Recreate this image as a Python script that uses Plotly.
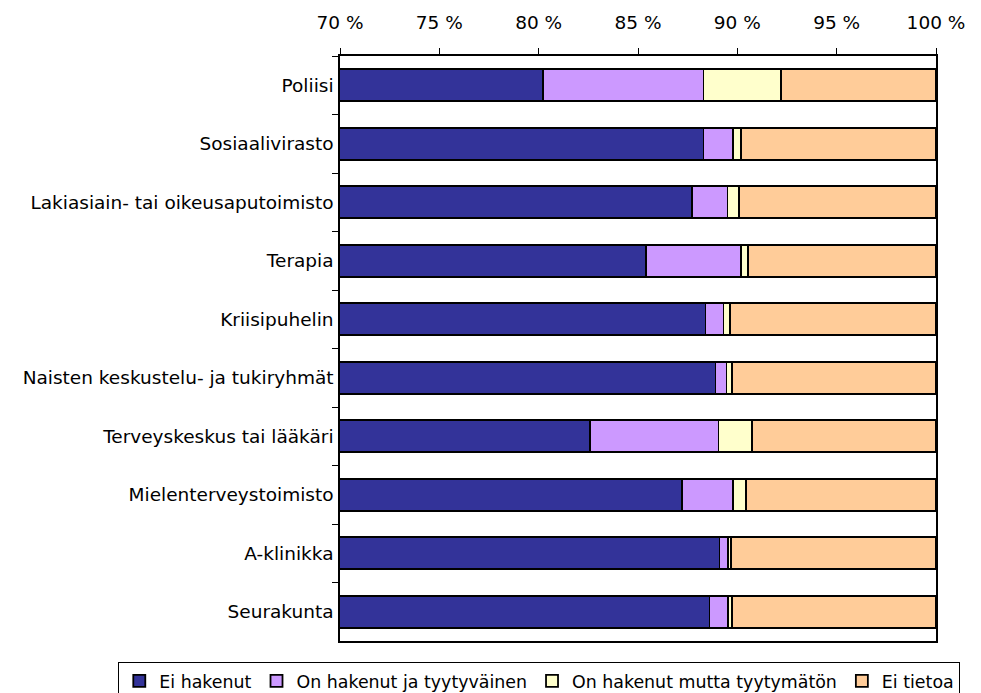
import plotly.graph_objects as go

categories = ["Poliisi", "Sosiaalivirasto", "Lakiasiain- tai oikeusaputoimisto", "Terapia",
              "Kriisipuhelin", "Naisten keskustelu- ja tukiryhmät", "Terveyskeskus tai lääkäri",
              "Mielenterveystoimisto", "A-klinikka", "Seurakunta"]
ei_hakenut = [80.2, 88.3, 87.7, 85.4, 88.4, 88.9, 82.6, 87.2, 89.1, 88.6]
tyytyvainen = [8.1, 1.5, 1.8, 4.8, 0.9, 0.55, 6.45, 2.6, 0.45, 0.95]
tyytymaton = [3.9, 0.4, 0.6, 0.35, 0.35, 0.27, 1.7, 0.65, 0.15, 0.2]
ei_tietoa = [7.8, 9.8, 9.9, 9.45, 10.35, 10.28, 9.25, 9.55, 10.3, 10.25]

series = [
    ("Ei hakenut", ei_hakenut, "#333399"),
    ("On hakenut ja tyytyväinen", tyytyvainen, "#CC99FF"),
    ("On hakenut mutta tyytymätön", tyytymaton, "#FFFFCC"),
    ("Ei tietoa", ei_tietoa, "#FFCC99"),
]
tick_vals = [70, 75, 80, 85, 90, 95, 100]
tick_text = [f"{v} %" for v in tick_vals]

fig = go.Figure()
for name, vals, color in series:
    fig.add_trace(go.Bar(
        y=categories, x=vals, name=name, orientation="h",
        marker=dict(color=color, line=dict(color="black", width=1.8)),
    ))

fig.update_layout(
    barmode="stack",
    bargap=0.45,
    width=973, height=685,
    margin=dict(l=332, r=45, t=48, b=52, autoexpand=False),
    paper_bgcolor="white", plot_bgcolor="white",
    font=dict(family="DejaVu Sans, Liberation Sans, Arial, sans-serif", size=18.5, color="black"),
    showlegend=True,
    legend=dict(
        orientation="h", x=-0.372, xanchor="left", y=-0.036, yanchor="top",
        bordercolor="black", borderwidth=1, itemwidth=30,
        font=dict(size=17.4), traceorder="normal",
    ),
    xaxis=dict(
        side="top", range=[70, 100], tickvals=tick_vals, ticktext=tick_text,
        showgrid=False, zeroline=False, showline=True, linecolor="black", linewidth=1.5,
        mirror=True, ticks="outside", ticklen=6, tickcolor="black",
        ticklabelstandoff=12,
    ),
    yaxis=dict(
        autorange="reversed", showgrid=False, showline=True, linecolor="black", linewidth=1.5,
        mirror=True, ticks="outside", ticklen=6, tickcolor="black", tickson="boundaries",
        ticklabelstandoff=1,
    ),
)

fig.write_html("out.html")
